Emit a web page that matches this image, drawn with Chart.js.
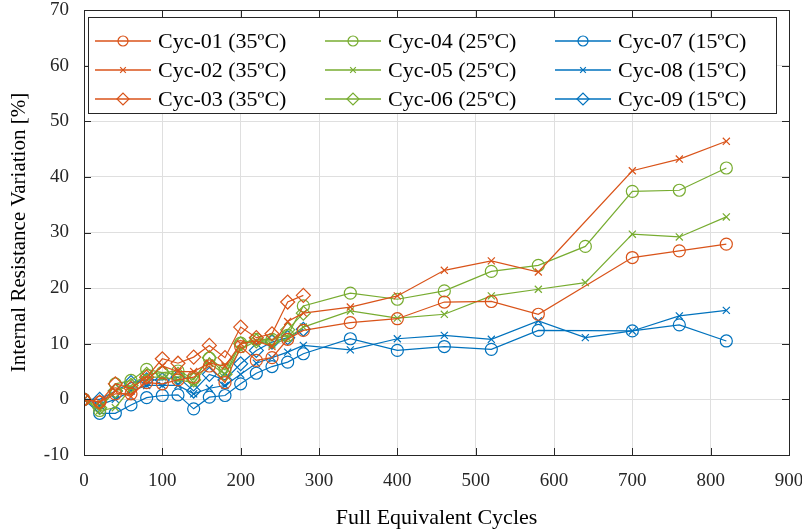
<!DOCTYPE html>
<html>
<head>
<meta charset="utf-8">
<script src="https://cdn.jsdelivr.net/npm/chart.js@4.4.1/dist/chart.umd.min.js"></script>
<style>
  html, body { margin: 0; padding: 0; background: #fff; }
  #wrap { width: 802px; height: 531px; }
</style>
</head>
<body>
<div id="wrap"><canvas id="chart" width="802" height="531"></canvas></div>
<script>
// x values (full equivalent cycles) per group of tests
const cyclesA = [0, 20, 40, 60, 80, 100, 120, 140, 160, 180, 200, 220, 240, 260, 280, 340, 400, 460, 520, 580, 700, 760, 820];
const cyclesB = [0, 20, 40, 60, 80, 100, 120, 140, 160, 180, 200, 220, 240, 260, 280, 340, 400, 460, 520, 580, 640, 700, 760, 820];
const cyclesC = [0, 20, 40, 60, 80, 100, 120, 140, 160, 180, 200, 220, 240, 260, 280];

// internal resistance variation [%]
const cyc01 = [0, -0.5, 1.0, 1.0, 3.0, 2.8, 3.5, 4.0, 6.0, 3.0, 9.5, 7.0, 7.5, 10.8, 12.4, 13.8, 14.5, 17.5, 17.6, 15.3, 25.5, 26.7, 27.9];
const cyc02 = [0, -0.5, 1.5, 0.5, 3.5, 6.0, 5.0, 5.0, 6.5, 6.0, 10.0, 10.5, 9.5, 14.0, 15.5, 16.6, 18.6, 23.2, 24.9, 22.9, 41.1, 43.2, 46.4];
const cyc03 = [0, -0.5, 2.8, 2.0, 4.0, 7.3, 6.5, 7.6, 9.7, 7.5, 13.0, 11.1, 11.8, 17.5, 18.7];
const cyc04 = [0, -2.0, 2.8, 3.4, 5.4, 4.8, 5.1, 3.7, 7.4, 5.3, 10.1, 10.8, 10.8, 11.5, 16.8, 19.1, 18.0, 19.5, 23.0, 24.1, 27.5, 37.4, 37.6, 41.6];
const cyc05 = [0, -2.0, -1.5, 2.0, 4.0, 4.0, 3.5, 3.0, 6.5, 4.5, 9.0, 10.5, 9.8, 11.0, 13.0, 15.9, 14.6, 15.3, 18.6, 19.8, 21.0, 29.7, 29.2, 32.8];
const cyc06 = [0, -1.5, 1.5, 2.5, 4.5, 4.8, 4.5, 3.5, 7.5, 4.5, 10.0, 10.5, 10.5, 12.5, 15.5];
const cyc07 = [0, -2.5, -2.5, -1.0, 0.3, 0.7, 0.8, -1.7, 0.4, 0.7, 2.8, 4.7, 5.9, 6.7, 8.2, 10.9, 8.8, 9.5, 9.0, 12.4, 12.3, 13.4, 10.5];
const cyc08 = [0, -1.0, 0, 1.5, 2.5, 2.5, 2.5, 1.0, 2.0, 2.5, 4.5, 6.5, 7.5, 8.5, 9.7, 8.9, 10.9, 11.5, 10.8, 14.1, 11.1, 12.3, 15.0, 16.0];
const cyc09 = [0, 0, 1.5, 3.0, 3.5, 3.5, 4.0, 1.5, 4.5, 3.5, 6.4, 8.8, 10.3, 11.1, 12.6];

const xTicks = [0, 100, 200, 300, 400, 500, 600, 700, 800, 900];
const yTicks = [-10, 0, 10, 20, 30, 40, 50, 60, 70];

const ORANGE = '#D95319';
const GREEN = '#77AC30';
const BLUE = '#0072BD';
const FONT = "'Liberation Serif', 'DejaVu Serif', serif";

function pts(xs, ys) {
    return xs.map((x, i) => ({ x: x, y: ys[i] }));
}

function series(label, xs, ys, color, style) {
    const radius = style === 'circle' ? 6 : (style === 'crossRot' ? 5 : 7);
    return {
        label: label,
        data: pts(xs, ys),
        borderColor: color,
        backgroundColor: color,
        borderWidth: 1.2,
        pointStyle: style,
        pointRadius: radius,
        pointBorderWidth: 1.2,
        pointBackgroundColor: 'rgba(0,0,0,0)',
        pointBorderColor: color,
        pointHoverRadius: radius,
        tension: 0
    };
}

const datasets = [
    series('Cyc-01 (35ºC)', cyclesA, cyc01, ORANGE, 'circle'),
    series('Cyc-02 (35ºC)', cyclesA, cyc02, ORANGE, 'crossRot'),
    series('Cyc-03 (35ºC)', cyclesC, cyc03, ORANGE, 'rectRot'),
    series('Cyc-04 (25ºC)', cyclesB, cyc04, GREEN, 'circle'),
    series('Cyc-05 (25ºC)', cyclesB, cyc05, GREEN, 'crossRot'),
    series('Cyc-06 (25ºC)', cyclesC, cyc06, GREEN, 'rectRot'),
    series('Cyc-07 (15ºC)', cyclesA, cyc07, BLUE, 'circle'),
    series('Cyc-08 (15ºC)', cyclesB, cyc08, BLUE, 'crossRot'),
    series('Cyc-09 (15ºC)', cyclesC, cyc09, BLUE, 'rectRot')
];

// Box around the plot plus inward tick marks (MATLAB style)
const boxPlugin = {
    id: 'box',
    afterDraw(chart) {
        const a = chart.chartArea;
        const ctx = chart.ctx;
        const xs = chart.scales.x, ys = chart.scales.y;
        ctx.save();
        ctx.strokeStyle = '#262626';
        ctx.lineWidth = 1;
        ctx.beginPath();
        xTicks.forEach(v => {
            const px = Math.round(xs.getPixelForValue(v)) + 0.5;
            ctx.moveTo(px, a.bottom); ctx.lineTo(px, a.bottom - 7);
            ctx.moveTo(px, a.top); ctx.lineTo(px, a.top + 7);
        });
        yTicks.forEach(v => {
            const py = Math.round(ys.getPixelForValue(v)) + 0.5;
            ctx.moveTo(a.left, py); ctx.lineTo(a.left + 7, py);
            ctx.moveTo(a.right, py); ctx.lineTo(a.right - 7, py);
        });
        ctx.stroke();
        ctx.strokeRect(Math.round(a.left) + 0.5, Math.round(a.top) + 0.5,
            Math.round(a.right - a.left), Math.round(a.bottom - a.top));
        ctx.restore();
    }
};

// Legend drawn inside the plot, three columns filled top to bottom
const legendPlugin = {
    id: 'innerLegend',
    afterDraw(chart) {
        const ctx = chart.ctx;
        const box = { left: 88, top: 17, right: 776, bottom: 113 };
        const colX = [95, 325, 555];
        const rowY = [41, 70, 99];
        ctx.save();
        ctx.fillStyle = '#fff';
        ctx.fillRect(box.left, box.top, box.right - box.left, box.bottom - box.top);
        ctx.strokeStyle = '#262626';
        ctx.lineWidth = 1;
        ctx.strokeRect(box.left + 0.5, box.top + 0.5, box.right - box.left, box.bottom - box.top);
        chart.data.datasets.forEach((ds, i) => {
            const col = Math.floor(i / 3), row = i % 3;
            const x0 = colX[col], y = rowY[row];
            ctx.strokeStyle = ds.borderColor;
            ctx.globalAlpha = 0.75;
            ctx.lineWidth = 2;
            ctx.beginPath();
            ctx.moveTo(x0, y); ctx.lineTo(x0 + 56, y);
            ctx.stroke();
            ctx.globalAlpha = 1;
            ctx.fillStyle = 'rgba(0,0,0,0)';
            ctx.lineWidth = 1.2;
            Chart.helpers.drawPoint(ctx, {
                pointStyle: ds.pointStyle,
                radius: ds.pointRadius - 1,
                borderWidth: 1.2,
                rotation: 0
            }, x0 + 28, y);
            ctx.fillStyle = '#000';
            ctx.font = "22px " + FONT;
            ctx.textBaseline = 'middle';
            ctx.textAlign = 'left';
            ctx.fillText(ds.label, x0 + 63, y + 1);
        });
        ctx.restore();
    }
};

new Chart(document.getElementById('chart').getContext('2d'), {
    type: 'line',
    data: { datasets: datasets },
    options: {
        responsive: false,
        animation: false,
        devicePixelRatio: 1,
        layout: { padding: { left: 0, right: 13, top: 10, bottom: 0 } },
        plugins: {
            legend: { display: false },
            tooltip: { enabled: false }
        },
        scales: {
            x: {
                type: 'linear',
                min: 0,
                max: 900,
                afterBuildTicks: s => { s.ticks = xTicks.map(v => ({ value: v })); },
                afterFit: s => { s.height = 76; s.paddingLeft = 0; s.paddingRight = 0; },
                grid: { color: '#dfdfdf', lineWidth: 1, drawTicks: false },
                border: { color: '#262626' },
                ticks: { color: '#262626', font: { family: FONT, size: 19 }, padding: 15, maxRotation: 0 },
                title: {
                    display: true,
                    text: 'Full Equivalent Cycles',
                    color: '#000',
                    font: { family: FONT, size: 22 },
                    padding: { top: 2, bottom: 0 }
                }
            },
            y: {
                min: -10,
                max: 70,
                afterBuildTicks: s => { s.ticks = yTicks.map(v => ({ value: v })); },
                afterFit: s => { s.width = 84; s.paddingTop = 0; s.paddingBottom = 0; },
                grid: { color: '#dfdfdf', lineWidth: 1, drawTicks: false },
                border: { color: '#262626' },
                ticks: { color: '#262626', font: { family: FONT, size: 19 }, padding: 15 },
                title: {
                    display: true,
                    text: 'Internal Resistance Variation [%]',
                    color: '#000',
                    font: { family: FONT, size: 21 },
                    padding: { top: 7, bottom: 4 }
                }
            }
        }
    },
    plugins: [boxPlugin, legendPlugin]
});
</script>
</body>
</html>
